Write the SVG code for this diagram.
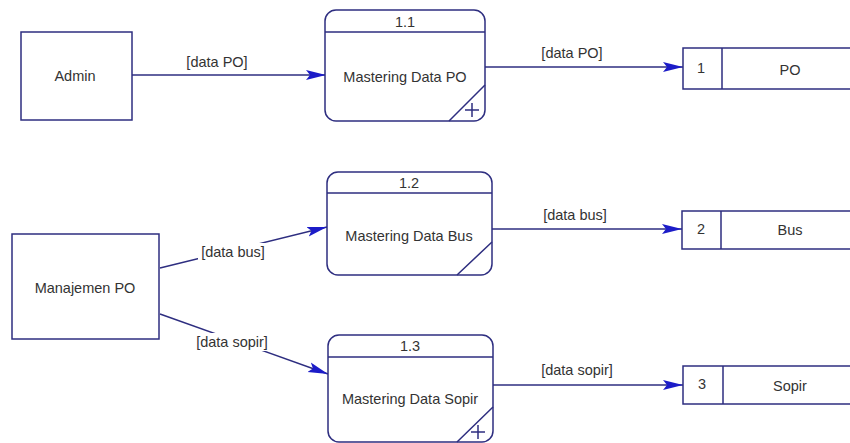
<svg xmlns="http://www.w3.org/2000/svg" width="850" height="443" viewBox="0 0 850 443">
<defs>
<marker id="arr" markerWidth="22" markerHeight="12" refX="20" refY="6" orient="auto" markerUnits="userSpaceOnUse">
<path d="M0,1 L20,6 L0,11 L4,6 Z" fill="#1c1cc8"/>
</marker>
</defs>
<style>
.box{fill:#fff;stroke:#2e2e80;stroke-width:1.5}
.ln{fill:none;stroke:#2e2e80;stroke-width:1.5}
.t{font-family:"Liberation Sans",Arial,sans-serif;font-size:14.5px;fill:#333;text-anchor:middle;dominant-baseline:central}
.lbl{fill:#fff}
.flow{fill:none;stroke:#2e2e80;stroke-width:1.5}
</style>
<rect width="850" height="443" fill="#fff"/>
<g id="connectors">
<path class="flow" d="M132,75 L326,75" marker-end="url(#arr)"/>
<path class="flow" d="M485,67 L683,67" marker-end="url(#arr)"/>
<path class="flow" d="M160,268 L327,227" marker-end="url(#arr)"/>
<path class="flow" d="M492,229 L682,229" marker-end="url(#arr)"/>
<path class="flow" d="M160,314 L328,374" marker-end="url(#arr)"/>
<path class="flow" d="M493,385 L683,385" marker-end="url(#arr)"/>
<text class="t" x="217" y="62">[data PO]</text>
<text class="t" x="572" y="53">[data PO]</text>
<rect class="lbl" x="198" y="243" width="70" height="18"/>
<text class="t" x="233" y="252">[data bus]</text>
<text class="t" x="575" y="215">[data bus]</text>
<rect class="lbl" x="192" y="333" width="80" height="18"/>
<text class="t" x="232" y="342">[data sopir]</text>
<text class="t" x="577" y="370">[data sopir]</text>
</g>
<g id="admin">
<rect class="box" x="21" y="32" width="111" height="88"/>
<text class="t" x="75" y="76">Admin</text>
</g>
<g id="manajemen">
<rect class="box" x="12" y="234" width="147" height="105"/>
<text class="t" x="85" y="288">Manajemen PO</text>
</g>
<g id="p11">
<rect class="box" x="325" y="10" width="160" height="111" rx="11"/>
<path class="ln" d="M325,32 H485 M449,121 L485,85 M465,110 H479 M472,103 V117"/>
<text class="t" x="405" y="22">1.1</text>
<text class="t" x="405" y="77">Mastering Data PO</text>
</g>
<g id="p12">
<rect class="box" x="327" y="172" width="165" height="103" rx="11"/>
<path class="ln" d="M327,193 H492 M457,275 L492,242"/>
<text class="t" x="409" y="183">1.2</text>
<text class="t" x="409" y="236">Mastering Data Bus</text>
</g>
<g id="p13">
<rect class="box" x="328" y="335" width="165" height="107" rx="11"/>
<path class="ln" d="M328,357 H493 M457,442 L493,407 M471,432 H485 M478,425 V439"/>
<text class="t" x="410" y="346">1.3</text>
<text class="t" x="410" y="399">Mastering Data Sopir</text>
</g>
<g id="s1">
<path class="ln" d="M852,48 H683 V89 H852 M722,48 V89"/>
<text class="t" x="701" y="68">1</text>
<text class="t" x="790" y="70">PO</text>
</g>
<g id="s2">
<path class="ln" d="M852,211 H682 V249 H852 M721,211 V249"/>
<text class="t" x="701" y="229">2</text>
<text class="t" x="790" y="230">Bus</text>
</g>
<g id="s3">
<path class="ln" d="M852,366 H683 V404 H852 M723,366 V404"/>
<text class="t" x="702" y="384">3</text>
<text class="t" x="790" y="386">Sopir</text>
</g>
</svg>
